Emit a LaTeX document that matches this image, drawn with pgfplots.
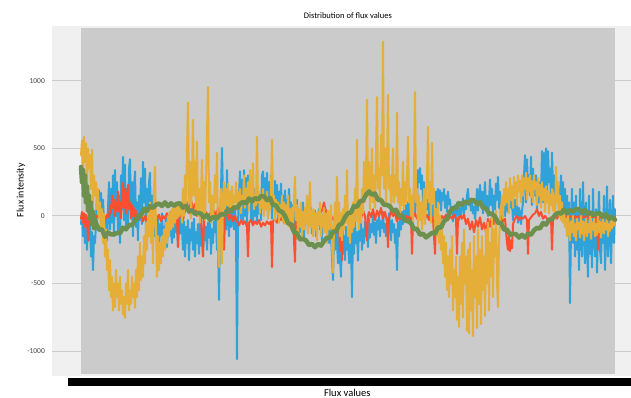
\documentclass[border=0pt]{standalone}
\usepackage{pgfplots}
\pgfplotsset{compat=1.18}
\usepackage{fontspec}
\setmainfont{Carlito}
\definecolor{cblue}{HTML}{30A2DA}
\definecolor{cred}{HTML}{FC4F30}
\definecolor{cyel}{HTML}{E5AE38}
\definecolor{cgreen}{HTML}{6D904F}
\definecolor{figbg}{HTML}{F0F0F0}
\definecolor{gridc}{HTML}{CBCBCB}
\begin{document}
\begin{tikzpicture}
\path[use as bounding box] (0,0) rectangle (631bp,398bp);
\begin{axis}[
  at={(52bp,22bp)}, anchor=south west,
  scale only axis, width=579bp, height=350bp,
  xmin=-29, xmax=550, ymin=-1185, ymax=1407,
  axis line style={draw=none},
  axis background/.style={fill=figbg},
  tick style={draw=none},
  xtick=\empty,
  ytick={-1000,-500,0,500,1000},
  ymajorgrids,
  grid style={gridc, line width=1bp},
  /pgf/number format/assume math mode=true,
  /pgf/number format/1000 sep={},
  scaled y ticks=false,
  yticklabel style={anchor=east, inner sep=0pt, xshift=-7bp, font=\fontsize{7.5bp}{9bp}\selectfont, text=black!75},
  title={Distribution of flux values},
  title style={at={(axis description cs:0.511,1.014)}, anchor=center, font=\fontsize{8.5bp}{10bp}\selectfont},
  xlabel={Flux values},
  xlabel style={at={(axis description cs:0.51,-0.049)}, anchor=center, font=\fontsize{10.5bp}{12bp}\selectfont},
  ylabel={Flux intensity},
  ylabel style={at={(axis description cs:-0.0535,0.531)}, anchor=center, rotate=0, font=\fontsize{10bp}{12bp}\selectfont},
  every axis plot/.append style={line join=round, line cap=round},
]
\fill[gridc] (axis cs:0,-1172) rectangle (axis cs:534,1393);
% blue
\addplot[cblue, line width=2bp] coordinates {
(0,-60)(1,20)(2,-150)(3,-40)(4,-200)(5,-90)(6,-250)(7,-60)(8,-180)(9,-30)(10,-300)(11,-120)(12,-400)(13,-150)(14,-200)(15,-60)
(16,150)(17,60)(18,190)(19,100)(20,170)(21,40)(22,120)(23,-50)(24,-120)(25,-20)(26,-180)(27,60)
(28,250)(29,-100)(30,200)(31,-50)(32,300)(33,-150)(34,340)(35,0)(36,250)(37,-120)(38,150)(39,-200)(40,300)(41,50)(42,437)(43,-30)(44,380)(45,-100)(46,200)(47,-60)(48,350)(49,420)(50,-20)(51,250)(52,-150)(53,200)(54,330)(55,-80)(56,100)(57,-180)(58,150)(59,-30)(60,280)(61,-60)(62,400)(63,100)(64,350)(65,-120)(66,200)(67,-40)(68,250)(69,320)(70,-100)(71,150)(72,-50)(73,200)(74,-150)
(75,-30)(76,-180)(77,0)(78,-230)(79,-60)(80,-150)(81,20)(82,-200)(83,-80)(84,-120)(85,10)(86,-230)(87,-40)(88,-150)(89,30)(90,-100)(91,-200)(92,-20)(93,-160)(94,40)(95,-120)(96,-60)(97,-220)(98,-20)(99,-130)(100,30)(101,-100)
(102,-250)(103,-40)(104,-300)(105,-80)(106,-200)(107,-30)(108,-326)(109,-100)(110,-180)(111,-50)(112,-250)(113,-20)(114,-300)(115,-120)(116,-200)(117,-60)(118,-280)(119,-40)(120,-220)(121,-100)(122,-300)(123,-30)(124,-180)(125,-80)(126,-250)(127,-50)(128,-160)(129,-20)(130,-280)(131,-100)(132,-200)(133,-40)(134,-120)(135,-30)(136,-250)
(137,-150)(138,-622)(139,-100)(140,200)(141,504)(142,100)(143,-50)(144,150)(145,-100)(146,340)(147,0)(148,-150)(149,100)(150,-80)(151,200)(152,-30)(153,-100)
(154,50)(155,-100)(156,-1060)(157,-50)(158,150)(159,330)(160,-20)(161,270)(162,-60)(163,340)(164,0)(165,280)(166,-80)(167,300)(168,50)(169,250)
(170,-40)(171,150)(172,-60)(173,200)(174,0)(175,100)(176,-50)(177,180)(178,20)(179,120)(180,-30)(181,300)
(182,330)(183,50)(184,280)(185,100)(186,320)(187,0)(188,250)(189,150)(190,300)(191,-20)(192,200)(193,80)(194,260)(195,40)(196,230)(197,-30)(198,180)(199,60)(200,240)(201,0)(202,150)(203,-50)(204,190)(205,30)(206,120)(207,-40)(208,200)(209,20)
(210,100)(211,-60)(212,80)(213,-100)(214,50)(215,-30)(216,120)(217,-80)(218,40)(219,-120)(220,60)(221,-40)(222,100)(223,-150)(224,20)(225,-60)(226,80)(227,-100)(228,30)(229,-50)(230,60)(231,-130)(232,0)(233,-80)(234,40)(235,-150)(236,-20)(237,-60)(238,50)(239,-100)(240,-20)(241,-180)(242,10)(243,-80)(244,60)(245,-120)(246,0)(247,-60)(248,-200)(249,-50)
(250,-150)(251,-300)(252,-474)(253,-100)(254,-250)(255,-50)(256,-200)(257,-350)(258,-80)(259,-300)(260,-450)(261,-100)(262,-280)(263,-150)(264,-326)
(265,-80)(266,-250)(267,-120)(268,-350)(269,-60)(270,-200)(271,-600)(272,-100)(273,-280)(274,-50)(275,-200)(276,-120)(277,-330)(278,-60)(279,-180)(280,-30)(281,-250)(282,-100)(283,-200)(284,-40)(285,-150)(286,-80)(287,-230)(288,-20)(289,-160)(290,-60)(291,-120)(292,10)(293,-140)(294,-50)(295,-200)(296,-30)(297,-100)(298,20)(299,-150)(300,-40)(301,-90)(302,30)(303,-120)(304,-60)
(305,-150)(306,-20)(307,-100)(308,20)(309,-80)(310,-180)(311,-30)(312,-120)(313,-60)(314,-200)(315,-100)(316,-400)(317,-50)(318,-150)(319,0)(320,-100)(321,30)(322,-60)(323,60)(324,-30)(325,80)(326,-50)(327,100)(328,0)(329,150)(330,-20)(331,100)(332,50)(333,200)(334,20)(335,150)(336,80)
(337,340)(338,250)(339,355)(340,200)(341,300)(342,100)(343,250)(344,80)
(345,150)(346,50)(347,120)(348,0)(349,100)(350,-30)(351,60)(352,80)(353,-50)(354,150)(355,180)(356,60)(357,200)(358,100)(359,190)(360,40)(361,170)(362,120)(363,200)(364,60)(365,150)(366,30)(367,180)(368,90)(369,120)(370,20)(371,60)(372,-40)(373,30)(374,80)(375,-20)(376,100)(377,50)(378,-30)(379,60)(380,-10)(381,90)(382,130)(383,20)(384,100)(385,50)(386,150)(387,200)(388,80)(389,120)(390,40)(391,100)(392,20)(393,70)(394,-20)
(395,60)(396,200)(397,40)(398,150)(399,230)(400,80)(401,180)(402,20)(403,120)(404,250)(405,60)(406,150)(407,0)(408,100)(409,270)(410,80)(411,200)(412,20)(413,150)(414,50)(415,240)(416,120)(417,290)(418,60)(419,180)(420,-20)(421,100)(422,40)(423,150)(424,0)(425,80)(426,200)(427,30)(428,140)(429,220)(430,60)(431,100)(432,-30)(433,50)(434,120)(435,0)(436,80)(437,-50)(438,60)(439,20)(440,-60)(441,40)(442,100)
(443,300)(444,450)(445,100)(446,420)(447,200)(448,300)(449,150)(450,440)(451,80)(452,350)(453,200)(454,150)(455,300)(456,50)(457,200)(458,100)(459,250)(460,150)(461,480)(462,100)(463,466)(464,200)(465,500)(466,150)(467,480)(468,250)(469,350)(470,100)(471,470)(472,200)(473,300)(474,50)(475,250)(476,120)(477,200)(478,40)(479,150)
(480,300)(481,100)(482,250)(483,50)(484,200)(485,0)(486,150)(487,-50)(488,100)(489,-645)
(490,-100)(491,200)(492,-200)(493,100)(494,-300)(495,150)(496,-250)(497,50)(498,-400)(499,200)(500,-150)(501,-300)(502,250)(503,-100)(504,-350)(505,100)(506,-200)(507,-450)(508,150)(509,-280)(510,-100)(511,-380)(512,200)(513,-150)(514,-300)(515,50)(516,-420)(517,-100)(518,180)(519,-250)(520,-350)(521,0)(522,-200)(523,150)(524,-400)(525,-100)(526,220)(527,-300)(528,-150)(529,120)(530,-350)(531,-50)(532,150)(533,-200)(534,50)
};
% red
\addplot[cred, line width=2bp] coordinates {
(0,-20)(1,30)(2,-50)(3,20)(4,-80)(5,10)(6,-30)(7,-180)(8,0)(9,-60)(10,20)(11,-40)(12,0)(13,-20)(14,10)
(16,-10)(18,10)(20,-20)(22,0)(24,-30)(26,10)(28,-10)
(29,80)(30,20)(31,150)(32,60)(33,120)(34,0)(35,100)(36,40)(37,180)(38,30)(39,100)(40,-20)(41,150)(42,245)(43,60)(44,200)(45,20)(46,120)(47,230)(48,50)(49,100)(50,-20)(51,80)(52,0)(53,60)(54,-30)(55,40)(56,-10)
(58,-20)(60,10)(62,-40)(64,0)(66,-30)(68,20)(70,-20)(72,-50)(74,0)(76,-30)(78,10)(80,-40)(82,0)(84,-20)(86,20)(88,-30)(90,0)(92,-20)(94,10)(96,-30)
(97,-230)(98,-20)(100,10)(102,-30)
(104,40)(106,100)(108,20)(110,120)(112,50)(114,90)(116,0)(118,60)(120,-30)
(122,-300)(123,-20)(125,30)(127,-10)(129,20)(131,-20)(133,40)(135,0)(137,60)(139,-20)(141,30)(143,-250)(144,-20)(146,40)(148,-30)(150,10)(152,-40)(154,0)
(156,-40)(158,-70)(160,-30)(162,-60)(164,-40)(166,-80)(167,-300)(168,-50)(170,-30)(172,-70)(174,-40)(176,-60)(178,-30)(180,-80)(182,-50)(184,-70)(186,-40)(188,-60)(190,-40)(191,-378)(192,-40)(194,-20)(196,-50)(198,-10)(200,-30)(202,0)(204,-20)(206,10)(208,-30)(210,0)(212,-20)(214,-340)(215,-10)(217,20)(219,-20)(221,10)(223,-30)(225,0)(227,-20)(229,10)(231,-10)(233,-30)(235,0)(237,-20)(239,20)(241,40)(243,100)(244,60)(246,20)(248,-10)
(250,-30)(252,-10)(254,-50)(256,-20)(258,-60)(259,-260)(260,-30)(261,-326)(262,-20)(264,-40)(266,10)(268,-30)(270,0)(272,-20)(274,30)(276,-10)(278,20)(280,-20)(282,40)(284,0)(286,-180)(287,0)
(288,30)(290,-10)(292,50)(294,-30)(296,40)(298,0)(300,60)(302,-20)(304,30)(306,-40)(307,-230)(308,-20)(310,40)(312,0)(314,20)(316,-40)(318,0)(320,-20)(322,10)(324,-30)(326,0)(328,-20)(330,10)(331,-280)(332,-10)(334,20)(336,-20)(338,10)(340,-30)(342,0)(344,-20)(346,10)(348,-30)(350,0)(352,-20)(354,-280)(355,-20)(357,0)(359,-30)(361,0)(363,-20)(365,10)(367,-30)(369,0)(371,-20)(373,10)(375,-20)(376,-280)(377,-20)(379,0)
(381,-20)(383,10)(385,-60)(387,-20)(389,-100)(391,-40)(393,-120)(395,-30)(397,-80)(399,-10)(401,-100)(403,-50)(405,-120)(407,-20)(409,-80)(411,0)(413,-60)(415,-20)
(418,-30)(420,0)(422,-40)(424,-20)(426,-200)(427,-250)(428,-150)(429,-260)(430,-180)(431,-240)(432,-60)(434,-20)(436,0)(438,-30)(440,-10)(442,-20)(444,0)(446,-30)(447,-280)(448,-30)(450,-10)(452,10)(454,20)(456,50)(458,0)(460,30)(462,-20)(464,0)(466,-20)(468,-30)(470,-10)(471,-250)(472,-20)(474,0)(476,-20)(478,10)(480,-10)(482,0)(484,-20)(486,0)(488,-10)(490,0)(492,-20)(494,0)(496,-10)(498,0)(500,-20)(502,0)(504,-10)(506,10)(508,-20)(510,0)(512,-10)(514,0)(516,-20)(517,-250)(518,-20)(520,0)(522,-10)(524,0)(526,-20)(528,0)(530,-10)(532,0)(534,-20)
};
% yellow
\addplot[cyel, line width=2bp] coordinates {
(0,450)(1,560)(2,300)(3,585)(4,400)(5,540)(6,250)(7,500)(8,350)(9,450)(10,200)(11,490)(12,100)(13,300)(14,150)(15,250)(16,50)(17,200)(18,-20)(19,100)(20,-100)(21,50)(22,-200)(23,20)(24,-300)(25,-100)(26,-400)(27,-250)(28,-550)(29,-326)(30,-600)(31,-450)(32,-700)(33,-500)(34,-674)(35,-400)(36,-600)(37,-500)(38,-700)(39,-450)(40,-650)(41,-550)(42,-730)(43,-600)(44,-755)(45,-500)(46,-650)(47,-400)(48,-700)(49,-550)(50,-650)(51,-450)(52,-600)(53,-500)(54,-680)(55,-400)(56,-600)(57,-300)(58,-550)(59,-200)(60,-474)(61,-300)(62,-450)(63,-150)(64,-350)(65,-50)(66,-250)(67,30)(68,-150)(69,100)(70,-200)(71,50)(72,-350)(73,200)(74,363)(75,-100)(76,-450)(77,-150)(78,-400)(79,-200)(80,-350)(81,-150)(82,-300)(83,-100)(84,-250)(85,-50)(86,-200)(87,0)(88,-150)(89,30)(90,-100)(91,50)(92,-80)(93,60)(94,-50)(95,80)(96,-20)(97,100)(98,0)(99,60)
(100,100)(101,-50)(102,200)(103,0)(104,300)(105,50)(106,500)(107,840)(108,100)(109,400)(110,-20)(111,300)(112,711)(113,150)(114,400)(115,50)(116,550)(117,0)(118,200)(119,-50)(120,150)(121,415)(122,0)(123,250)(124,-30)(125,300)(126,600)(127,955)(128,100)(129,250)(130,-50)(131,150)(132,-20)(133,100)(134,300)
(135,100)(136,467)(137,-200)(138,-378)(139,-100)(140,200)(141,-350)(142,100)(143,250)(144,50)(145,200)(146,80)(147,240)(148,30)(149,180)(150,60)(151,220)(152,40)(153,150)(154,100)(155,250)(156,50)(157,180)(158,80)(159,200)(160,20)(161,150)(162,100)(163,300)(164,60)(165,200)(166,120)(167,250)(168,40)(169,340)
(170,100)(171,200)(172,390)(173,50)(174,150)(175,80)(176,585)(177,100)(178,180)(179,20)(180,150)(181,60)(182,200)(183,0)(184,120)(185,50)(186,180)(187,-20)(188,100)(189,40)(190,200)(191,563)(192,100)(193,150)(194,-30)(195,120)(196,20)(197,100)(198,-50)(199,80)(200,0)(201,150)(202,-40)(203,100)(204,-60)(205,80)(206,-20)(207,150)(208,-80)(209,50)
(210,-100)(211,60)(212,-50)(213,120)(214,290)(215,-30)(216,80)(217,-120)(218,50)(219,-80)(220,100)(221,-150)(222,30)(223,-100)(224,60)(225,-60)(226,150)(227,-130)(228,20)(229,250)(230,-80)(231,40)(232,-150)(233,50)(234,-100)(235,20)(236,-180)(237,30)(238,-60)(239,100)(240,-150)(241,0)(242,-80)(243,60)(244,-120)(245,20)(246,-200)(247,40)(248,-100)(249,-50)(250,80)(251,-200)(252,-420)(253,-80)(254,100)(255,-100)(256,289)(257,-50)(258,100)(259,-150)
(260,20)(261,-180)(262,50)(263,-100)(264,150)(265,-50)(266,340)(267,-150)(268,0)(269,-200)(270,50)(271,-120)(272,100)(273,-80)(274,200)(275,-40)(276,563)(277,0)(278,-100)(279,100)(280,-50)(281,200)
(282,20)(283,400)(284,100)(285,300)(286,859)(287,150)(288,400)(289,50)(290,250)(291,500)(292,100)(293,300)(294,60)(295,450)(296,881)(297,200)(298,350)(299,100)(300,600)(301,300)(302,1289)(303,200)(304,500)(305,100)(306,400)(307,896)(308,200)(309,300)(310,50)(311,250)(312,500)(313,100)(314,300)(315,150)(316,763)(317,100)(318,250)(319,20)(320,200)(321,80)(322,400)(323,50)(324,250)(325,100)(326,300)(327,585)(328,100)(329,200)(330,0)(331,150)
(332,-50)(333,300)(334,918)(335,100)(336,200)(337,-80)(338,150)(339,-30)(340,100)(341,-100)(342,50)(343,200)(344,-60)(345,100)(346,300)(347,659)(348,100)(349,250)(350,-50)(351,541)(352,100)(353,200)(354,-100)(355,50)(356,-150)(357,100)(358,-200)(359,0)
(360,-250)(361,-100)(362,-350)(363,-150)(364,-450)(365,-200)(366,-548)(367,-300)(368,-600)(369,-250)(370,-500)(371,-150)(372,-700)(373,-400)(374,-600)(375,-300)(376,-770)(377,-450)(378,-822)(379,-300)(380,-650)(381,-200)(382,-750)(383,-100)(384,-500)(385,-300)(386,-850)(387,-250)(388,-867)(389,-200)(390,-700)(391,-400)(392,-889)(393,-150)(394,-600)(395,-300)(396,-830)(397,-100)(398,-650)(399,-250)(400,-800)(401,-150)(402,-550)(403,-300)(404,-740)(405,-100)(406,-500)(407,-50)(408,-700)(409,-200)(410,-450)(411,0)(412,-600)(413,-100)(414,-300)(415,40)(416,-500)(417,-674)(418,-200)(419,-30)
(420,50)(421,150)(422,-20)(423,200)(424,80)(425,250)(426,100)(427,200)(428,20)(429,280)(430,120)(431,220)(432,60)(433,290)(434,150)(435,250)(436,80)(437,300)(438,180)(439,260)(440,100)(441,300)(442,150)(443,280)(444,200)(445,320)(446,120)(447,280)(448,180)(449,300)(450,140)(451,260)(452,100)(453,300)(454,200)(455,250)(456,80)(457,280)(458,150)(459,230)(460,60)(461,250)(462,120)(463,200)(464,30)(465,220)(466,100)(467,180)(468,20)(469,160)(470,80)(471,200)(472,40)(473,150)(474,-20)(475,363)(476,100)(477,250)(478,0)(479,150)(480,-30)(481,100)(482,-50)(483,50)(484,-80)
(485,-20)(486,-150)(487,0)(488,-100)(489,-180)(490,-40)(491,-120)(492,0)(493,-150)(494,-60)(495,-180)(496,-20)(497,-100)(498,-50)(499,-160)(500,0)(501,-130)(502,-40)(503,-180)(504,-80)(505,-20)(506,-150)(507,-60)(508,-120)(509,0)(510,-170)(511,-50)(512,-100)(513,-20)(514,-150)(515,-60)(516,-140)(517,0)(518,-120)(519,-40)(520,-160)(521,-80)(522,-20)(523,-130)(524,-50)(525,-100)(526,0)(527,-150)(528,-60)(529,-110)(530,-20)(531,-90)(532,-40)(533,-70)(534,-30)
};
% green
\addplot[cgreen, line width=4.5bp] coordinates {
(0,363)(1,250)(2,340)(3,150)(4,300)(5,100)(6,220)(7,40)(8,150)(9,-20)(10,100)(11,-60)(12,30)(13,-90)(14,-20)
(15,-55)(18,-101)(21,-100)(24,-154)(27,-122)(30,-137)(33,-135)(36,-126)(39,-129)(42,-86)(45,-99)(48,-66)(51,-69)(54,-35)(57,-1)(60,5)(63,53)(66,39)(69,73)(72,60)(75,84)(78,92)(81,74)(84,101)(87,73)(90,94)(93,75)(96,92)(99,93)
(102,61)(105,75)(108,34)(111,43)(114,15)(117,23)(120,17)(123,-11)(126,8)(129,-29)(132,-7)(135,-21)(138,1)(141,15)(144,9)(147,50)(150,34)(153,65)(156,59)(159,90)(162,104)(165,94)(168,130)(171,108)(174,133)(177,122)(180,147)(183,146)(186,117)(189,134)(192,82)(195,80)(198,40)
(201,31)(204,1)(207,-54)(210,-61)(213,-119)(216,-128)(219,-174)(222,-169)(225,-181)(228,-216)(231,-206)(234,-232)(237,-207)(240,-220)(243,-185)(246,-162)(249,-162)(252,-114)(255,-116)(258,-67)(261,-55)(264,-9)(267,21)(270,26)(273,75)(276,67)(279,109)(282,114)(285,157)(288,182)(291,158)(294,166)(297,119)
(300,119)(303,82)(306,83)(309,70)(312,36)(315,47)(318,1)(321,2)(324,-35)(327,-35)(330,-54)(333,-97)(336,-95)(339,-139)(342,-131)(345,-159)(348,-141)(351,-125)(354,-132)(357,-84)(360,-86)(363,-38)(366,-22)(369,31)(372,61)(375,56)(378,96)(381,82)(384,107)(387,94)(390,119)(393,117)(396,87)(399,103)
(402,60)(405,57)(408,18)(411,16)(414,-5)(417,-51)(420,-50)(423,-101)(426,-101)(429,-138)(432,-133)(435,-134)(438,-160)(441,-139)(444,-160)(447,-131)(450,-139)(453,-106)(456,-88)(459,-93)(462,-52)(465,-64)(468,-27)(471,-26)(474,7)(477,24)(480,17)(483,48)(486,21)(489,45)(492,31)(495,52)(498,51)
(501,25)(504,45)(507,11)(510,27)(513,5)(516,21)(519,19)(522,-6)(525,14)(528,-21)(531,-6)(534,-28)
};
\end{axis}
\fill[black] (68bp,12bp) rectangle (631bp,20bp);
\end{tikzpicture}
\end{document}
